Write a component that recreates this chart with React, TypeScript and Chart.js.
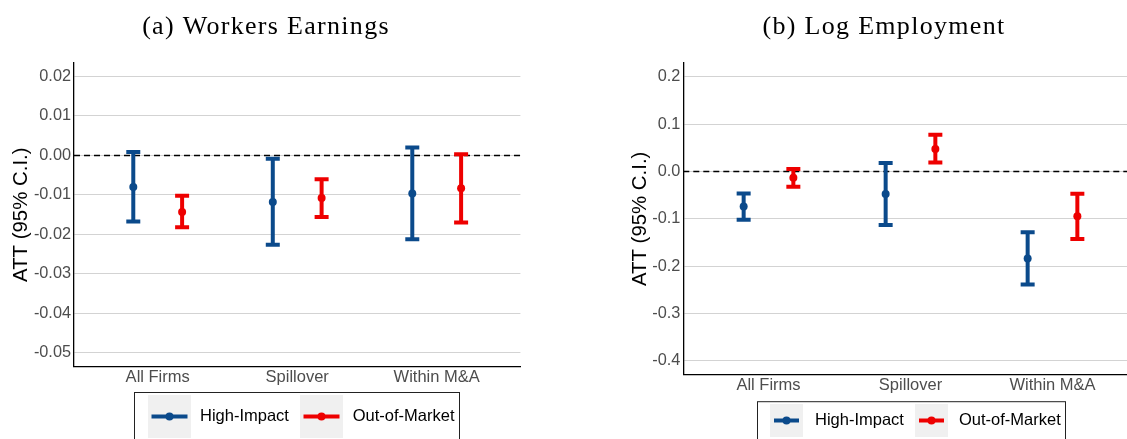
import React, { useEffect, useRef } from "react";
import { Chart, registerables } from "chart.js";

Chart.register(...registerables);

// ---------- data ----------
const categories = ["All Firms", "Spillover", "Within M&A"];
const seriesNames = ["High-Impact", "Out-of-Market"];

// (a) Workers Earnings
const earnHiEst = [-0.008, -0.0118, -0.0096];
const earnHiLo = [-0.0167, -0.0226, -0.0212];
const earnHiHi = [0.0009, -0.0008, 0.002];
const earnOomEst = [-0.0143, -0.0108, -0.0083];
const earnOomLo = [-0.0182, -0.0156, -0.017];
const earnOomHi = [-0.0102, -0.006, 0.0003];
const earnTicks = [-0.05, -0.04, -0.03, -0.02, -0.01, 0, 0.01, 0.02];
const earnTickLabels = ["-0.05", "-0.04", "-0.03", "-0.02", "-0.01", "0.00", "0.01", "0.02"];

// (b) Log Employment
const empHiEst = [-0.0737, -0.0477, -0.1839];
const empHiLo = [-0.1018, -0.113, -0.2386];
const empHiHi = [-0.0463, 0.0182, -0.1284];
const empOomEst = [-0.0133, 0.0477, -0.0947];
const empOomLo = [-0.0323, 0.019, -0.1425];
const empOomHi = [0.0056, 0.0779, -0.047];
const empTicks = [-0.4, -0.3, -0.2, -0.1, 0, 0.1, 0.2];
const empTickLabels = ["-0.4", "-0.3", "-0.2", "-0.1", "0.0", "0.1", "0.2"];

// ---------- styles ----------
const BLUE = "#0B4A8B";
const RED = "#EE0000";
const SANS = "'Liberation Sans', Arial, Helvetica, sans-serif";
const SERIF = "'Liberation Serif', 'Times New Roman', serif";
const DODGE = 0.175;
const H = 439;
const BAR_W = 4;
const PT_R = 4;

type Panel = {
  title: string;
  titleX: number;
  titleY: number;
  left: number;
  width: number;
  area: { left: number; right: number; top: number; bottom: number };
  yMin: number;
  yMax: number;
  ticks: number[];
  tickLabels: string[];
  yTitlePad: number;
  hiEst: number[];
  hiLo: number[];
  hiHi: number[];
  oomEst: number[];
  oomLo: number[];
  oomHi: number[];
  legend: {
    box: [number, number, number, number];
    keyX: number[];
    keyW: number;
    keyTop: number;
    inset: number;
    textX: number[];
    textY: number;
  };
};

const panels: Panel[] = [
  {
    title: "(a) Workers Earnings",
    titleX: 266,
    titleY: 33.5,
    left: 0,
    width: 563,
    area: { left: 74, right: 520.4, top: 62.7, bottom: 366.7 },
    yMin: -0.0535,
    yMax: 0.0235,
    ticks: earnTicks,
    tickLabels: earnTickLabels,
    yTitlePad: 9.4,
    hiEst: earnHiEst,
    hiLo: earnHiLo,
    hiHi: earnHiHi,
    oomEst: earnOomEst,
    oomLo: earnOomLo,
    oomHi: earnOomHi,
    legend: {
      box: [134.5, 392.5, 459.5, 446],
      keyX: [148, 300],
      keyW: 43,
      keyTop: 395,
      inset: 3.5,
      textX: [200, 352.7],
      textY: 416.5,
    },
  },
  {
    title: "(b) Log Employment",
    titleX: 321,
    titleY: 33.5,
    left: 563,
    width: 600,
    area: { left: 120.3, right: 574.7, top: 62.7, bottom: 375 },
    yMin: -0.43,
    yMax: 0.23,
    ticks: empTicks,
    tickLabels: empTickLabels,
    yTitlePad: 65.3,
    hiEst: empHiEst,
    hiLo: empHiLo,
    hiHi: empHiHi,
    oomEst: empOomEst,
    oomLo: empOomLo,
    oomHi: empOomHi,
    legend: {
      box: [194.5, 401.7, 502.5, 446],
      keyX: [207, 352],
      keyW: 33,
      keyTop: 404,
      inset: 4,
      textX: [252, 396],
      textY: 420.7,
    },
  },
];

function stems(offset: number, lo: number[], hi: number[]) {
  const out: { x: number; y: number | null }[] = [];
  categories.forEach((_, i) => {
    const x = i + 1 + offset;
    out.push({ x, y: lo[i] });
    out.push({ x, y: hi[i] });
    out.push({ x, y: null });
  });
  return out;
}
function caps(offset: number, lo: number[], hi: number[]) {
  const out: { x: number; y: number }[] = [];
  categories.forEach((_, i) => {
    out.push({ x: i + 1 + offset, y: lo[i] });
    out.push({ x: i + 1 + offset, y: hi[i] });
  });
  return out;
}
function pts(offset: number, est: number[]) {
  return categories.map((_, i) => ({ x: i + 1 + offset, y: est[i] }));
}

function makeDecorPlugin(p: Panel) {
  return {
    id: "decor",
    afterDraw(chart: any) {
      const ctx = chart.ctx as CanvasRenderingContext2D;
      ctx.save();
      // title
      ctx.font = `26px ${SERIF}`;
      (ctx as any).letterSpacing = "1.3px";
      ctx.fillStyle = "#000";
      ctx.textBaseline = "alphabetic";
      ctx.textAlign = "left";
      const w = ctx.measureText(p.title).width;
      ctx.fillText(p.title, p.titleX - w / 2, p.titleY);
      (ctx as any).letterSpacing = "0px";
      // legend box
      const L = p.legend;
      ctx.strokeStyle = "#222";
      ctx.lineWidth = 1;
      ctx.strokeRect(L.box[0], L.box[1], L.box[2] - L.box[0], L.box[3] - L.box[1]);
      const colors = [BLUE, RED];
      seriesNames.forEach((name, i) => {
        const kx = L.keyX[i];
        ctx.fillStyle = "#F0F0F0";
        ctx.fillRect(kx, L.keyTop, L.keyW, L.keyW);
        const cy = L.keyTop + L.keyW / 2;
        ctx.strokeStyle = colors[i];
        ctx.lineWidth = BAR_W;
        ctx.beginPath();
        ctx.moveTo(kx + L.inset, cy);
        ctx.lineTo(kx + L.keyW - L.inset, cy);
        ctx.stroke();
        ctx.fillStyle = colors[i];
        ctx.beginPath();
        ctx.arc(kx + L.keyW / 2, cy, PT_R, 0, Math.PI * 2);
        ctx.fill();
        ctx.fillStyle = "#000";
        ctx.font = `16.5px ${SANS}`;
        ctx.textBaseline = "middle";
        ctx.fillText(name, L.textX[i], L.textY);
      });
      ctx.restore();
    },
  };
}

function PanelChart({ p }: { p: Panel }) {
  const ref = useRef<HTMLCanvasElement | null>(null);
  useEffect(() => {
    if (!ref.current) return;
    const series = [
      { est: p.hiEst, lo: p.hiLo, hi: p.hiHi, color: BLUE, off: -DODGE },
      { est: p.oomEst, lo: p.oomLo, hi: p.oomHi, color: RED, off: DODGE },
    ];
    const datasets: any[] = [
      {
        type: "line",
        data: [
          { x: 0.4, y: 0 },
          { x: 3.6, y: 0 },
        ],
        borderColor: "#000",
        borderWidth: 1.6,
        borderDash: [6, 4],
        pointRadius: 0,
        order: 10,
      },
    ];
    series.forEach((s) => {
      datasets.push({
        type: "line",
        data: stems(s.off, s.lo, s.hi),
        borderColor: s.color,
        borderWidth: BAR_W,
        pointRadius: 0,
        spanGaps: false,
        order: 2,
      });
      datasets.push({
        type: "scatter",
        data: caps(s.off, s.lo, s.hi),
        pointStyle: "line",
        pointRadius: 7,
        borderColor: s.color,
        pointBorderWidth: BAR_W,
        borderWidth: BAR_W,
        order: 1,
      });
      datasets.push({
        type: "scatter",
        data: pts(s.off, s.est),
        pointStyle: "circle",
        pointRadius: PT_R,
        backgroundColor: s.color,
        borderColor: s.color,
        borderWidth: 0,
        order: 0,
      });
    });

    const chart = new Chart(ref.current, {
      type: "line",
      data: { datasets },
      plugins: [makeDecorPlugin(p)],
      options: {
        animation: false,
        responsive: false,
        devicePixelRatio: 1,
        events: [],
        layout: {
          padding: { left: 0, top: p.area.top, right: p.width - p.area.right, bottom: 0 },
        },
        plugins: { legend: { display: false }, tooltip: { enabled: false }, title: { display: false } },
        scales: {
          x: {
            type: "linear",
            min: 0.4,
            max: 3.6,
            afterBuildTicks: (scale: any) => {
              scale.ticks = categories.map((_, i) => ({ value: i + 1 }));
            },
            afterFit: (scale: any) => {
              scale.height = H - p.area.bottom;
            },
            grid: { display: false, drawTicks: false },
            border: { display: true, color: "#000", width: 1.3 },
            ticks: {
              autoSkip: false,
              maxRotation: 0,
              padding: 0.5,
              color: "#4D4D4D",
              font: { family: SANS, size: 16.5 },
              callback: (v: any) => categories[Math.round(Number(v)) - 1],
            },
          },
          y: {
            type: "linear",
            min: p.yMin,
            max: p.yMax,
            afterBuildTicks: (scale: any) => {
              scale.ticks = p.ticks.map((v) => ({ value: v }));
            },
            afterFit: (scale: any) => {
              scale.width = p.area.left;
            },
            grid: { color: "#D3D3D3", lineWidth: 1.1, drawTicks: false },
            border: { display: true, color: "#000", width: 1.3 },
            ticks: {
              padding: 3,
              color: "#4D4D4D",
              font: { family: SANS, size: 16.3 },
              callback: (_v: any, i: number) => p.tickLabels[i],
            },
            title: {
              display: true,
              text: "ATT (95% C.I.)",
              color: "#000",
              font: { family: SANS, size: 20.4 },
              padding: { top: p.yTitlePad, bottom: 0 },
            },
          },
        },
      } as any,
    });
    return () => chart.destroy();
  }, [p]);
  return (
    <canvas
      ref={ref}
      width={p.width}
      height={H}
      style={{ position: "absolute", left: p.left, top: 0, width: p.width, height: H }}
    />
  );
}

export default function App() {
  useEffect(() => {
    document.body.style.margin = "0";
    document.body.style.overflow = "hidden";
  }, []);
  return (
    <div
      style={{
        position: "fixed",
        left: 0,
        top: 0,
        width: 1127,
        height: H,
        overflow: "hidden",
        background: "#fff",
      }}
    >
      {panels.map((p, i) => (
        <PanelChart key={i} p={p} />
      ))}
    </div>
  );
}
